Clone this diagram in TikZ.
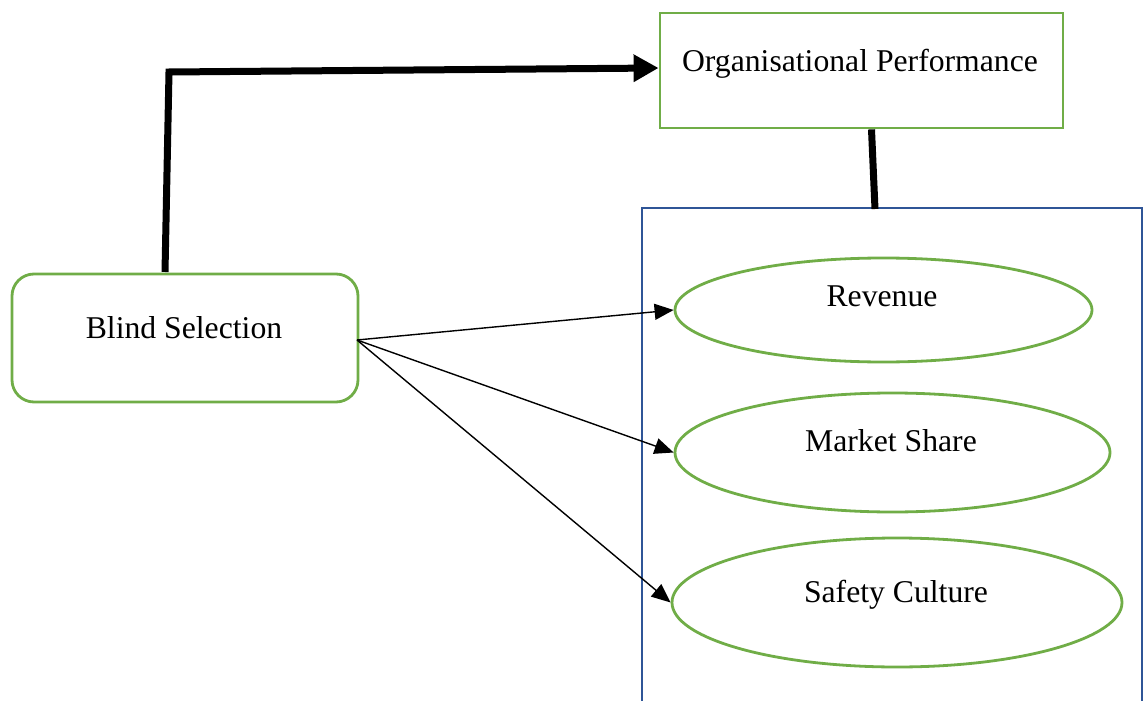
\documentclass[tikz,border=0pt]{standalone}
\usepackage{fontspec}
\setmainfont{Liberation Serif}
\usetikzlibrary{shapes.geometric,arrows.meta}
\definecolor{boxgreen}{RGB}{112,173,71}
\definecolor{boxblue}{RGB}{47,85,151}
\begin{document}
\begin{tikzpicture}[x=1pt,y=-1pt,
  greenbox/.style={draw=boxgreen,line width=2.8pt,rectangle,inner sep=0pt},
  ell/.style={draw=boxgreen,line width=2.8pt,ellipse,inner sep=0pt},
  txt/.style={anchor=base,inner sep=0pt,font=\fontsize{31.7}{36}\selectfont},
  thickline/.style={line width=7pt},
  thickarrow/.style={line width=7pt,-{Triangle[length=25pt,width=26pt]}},
  thinarrow/.style={line width=1.4pt,-{Triangle[length=19pt,width=16pt]}}]
\useasboundingbox (0,0) rectangle (1144,701);
% blue frame (open at the bottom)
\draw[boxblue,line width=2.4pt] (642,705) -- (642,208) -- (1142,208) -- (1142,705);
% organisational performance
\node[greenbox,minimum width=403pt,minimum height=115pt] (op) at (861.5,70.5) {};
\node[txt] (opt) at (860,71) {Organisational Performance};
% blind selection
\node[greenbox,rounded corners=22pt,minimum width=346pt,minimum height=128pt] (bs) at (185,338) {};
\node[txt] (bst) at (184,338) {Blind Selection};
% ellipses
\node[ell,minimum width=417pt,minimum height=104pt] (rev) at (883.5,310) {};
\node[txt] (revt) at (882,306) {Revenue};
\node[ell,minimum width=435pt,minimum height=119pt] (ms) at (892.5,452.5) {};
\node[txt] (mst) at (891,451) {Market Share};
\node[ell,minimum width=450pt,minimum height=129pt] (sc) at (897,602.5) {};
\node[txt] (sct) at (896,602) {Safety Culture};
% thick connectors
\coordinate (c1) at (165,272);
\coordinate (c2) at (169,72);
\draw[thickarrow] (c1) -- (c2) -- ([yshift=2.5pt]op.west);
\coordinate (c4) at (875,209);
\draw[thickline] ([xshift=10pt]op.south) -- (c4);
% thin arrows
\coordinate (s) at (357,340);
\draw[thinarrow] (s) -- (rev.west);
\draw[thinarrow] (s) -- (ms.west);
\draw[thinarrow] (s) -- (sc.west);
\end{tikzpicture}
\end{document}
